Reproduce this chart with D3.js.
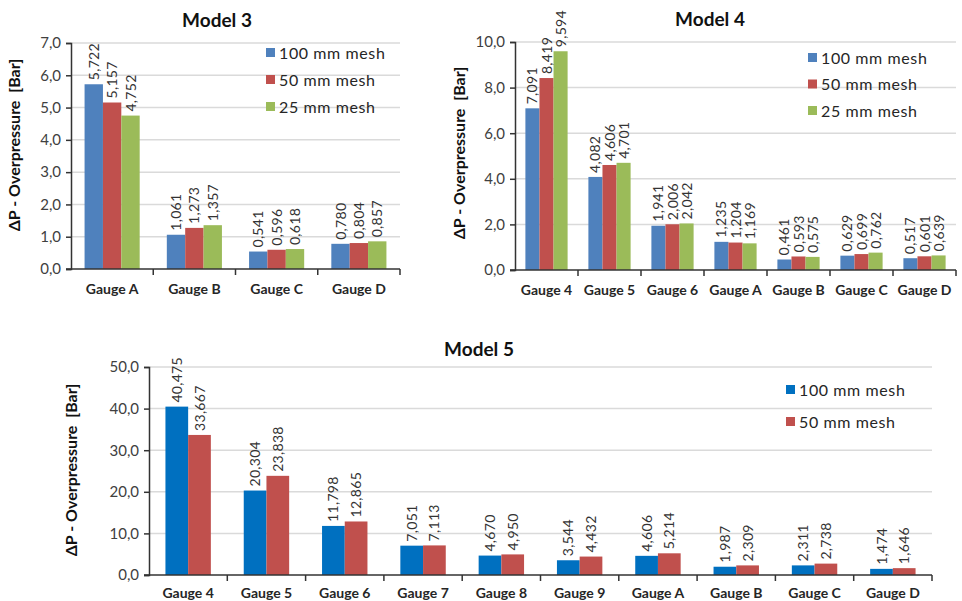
<!DOCTYPE html>
<html>
<head>
<meta charset="utf-8">
<script src="https://cdn.jsdelivr.net/npm/d3@7"></script>
<style>
  html, body { margin: 0; padding: 0; background: #fff; }
  svg { display: block; font-family: Lato, "Open Sans", sans-serif; }
  .ytitle { white-space: pre; }
</style>
</head>
<body>
<svg id="chart" width="962" height="601"></svg>
<script>
// ---- Model 3 ----
const m3Gauges = ["Gauge A", "Gauge B", "Gauge C", "Gauge D"];
const m3Mesh100 = [5.722, 1.061, 0.541, 0.780];
const m3Mesh50  = [5.157, 1.273, 0.596, 0.804];
const m3Mesh25  = [4.752, 1.357, 0.618, 0.857];
const m3Ticks = [0, 1, 2, 3, 4, 5, 6, 7];

// ---- Model 4 ----
const m4Gauges = ["Gauge 4", "Gauge 5", "Gauge 6", "Gauge A", "Gauge B", "Gauge C", "Gauge D"];
const m4Mesh100 = [7.091, 4.082, 1.941, 1.235, 0.461, 0.629, 0.517];
const m4Mesh50  = [8.419, 4.606, 2.006, 1.204, 0.593, 0.699, 0.601];
const m4Mesh25  = [9.594, 4.701, 2.042, 1.169, 0.575, 0.762, 0.639];
const m4Ticks = [0, 2, 4, 6, 8, 10];

// ---- Model 5 ----
const m5Gauges = ["Gauge 4", "Gauge 5", "Gauge 6", "Gauge 7", "Gauge 8", "Gauge 9", "Gauge A", "Gauge B", "Gauge C", "Gauge D"];
const m5Mesh100 = [40.475, 20.304, 11.798, 7.051, 4.670, 3.544, 4.606, 1.987, 2.311, 1.474];
const m5Mesh50  = [33.667, 23.838, 12.865, 7.113, 4.950, 4.432, 5.214, 2.309, 2.738, 1.646];
const m5Ticks = [0, 10, 20, 30, 40, 50];

const seriesNames = ["100 mm mesh", "50 mm mesh", "25 mm mesh"];
const yTitle = "ΔP - Overpressure  [Bar]";

const svg = d3.select("#chart");
const fmt1 = v => d3.format(".1f")(v).replace(".", ",");
const fmt3 = v => d3.format(".3f")(v).replace(".", ",");

function drawChart(opt) {
  const g = svg.append("g");
  const x = d3.scaleBand().domain(opt.categories).range([opt.left, opt.right])
    .paddingInner(opt.pad).paddingOuter(opt.pad / 2);
  const keys = opt.series.map((s, i) => i);
  const xs = d3.scaleBand().domain(keys).range([0, x.bandwidth()]);
  const yMax = opt.ticks[opt.ticks.length - 1];
  const y = d3.scaleLinear().domain([0, yMax]).range([opt.bottom, opt.top]);

  // gridlines
  g.append("g").selectAll("line").data(opt.ticks.filter(t => t > 0)).join("line")
    .attr("x1", opt.left).attr("x2", opt.right)
    .attr("y1", d => y(d)).attr("y2", d => y(d))
    .attr("stroke", "#dadada").attr("stroke-width", 1.5);

  // bars and value labels
  opt.categories.forEach((cat, ci) => {
    opt.series.forEach((vals, si) => {
      const v = vals[ci];
      const bx = x(cat) + xs(si);
      g.append("rect")
        .attr("x", bx).attr("y", y(v))
        .attr("width", xs.bandwidth()).attr("height", y(0) - y(v))
        .attr("fill", opt.colors[si]);
      g.append("text")
        .attr("transform", `translate(${bx + xs.bandwidth() / 2 + opt.labelFont * 0.36},${y(v) - 4}) rotate(-90)`)
        .attr("font-size", opt.labelFont).attr("fill", "#333")
        .attr("letter-spacing", 0.3)
        .text(fmt3(v));
    });
  });

  // y axis
  const yAxis = d3.axisLeft(y).tickValues(opt.ticks).tickFormat(fmt1).tickSize(5).tickPadding(5);
  const ya = g.append("g").attr("transform", `translate(${opt.left},0)`).call(yAxis);
  ya.select(".domain").attr("stroke", "#333").attr("stroke-width", 1.5);
  ya.selectAll(".tick line").attr("stroke", "#333").attr("stroke-width", 1.5);
  ya.selectAll(".tick text").attr("font-size", opt.tickFont).attr("fill", "#404040")
    .attr("font-family", "Lato, sans-serif");

  // x axis
  const xAxis = d3.axisBottom(x).tickSize(0).tickPadding(opt.catPad);
  const xa = g.append("g").attr("transform", `translate(0,${opt.bottom})`).call(xAxis);
  xa.select(".domain").attr("stroke", "#333").attr("stroke-width", 1.5)
    .attr("d", `M${opt.left - 5},0H${opt.right}`);
  xa.selectAll(".tick text").attr("font-size", opt.catFont).attr("font-weight", "bold")
    .attr("fill", "#262626").attr("font-family", "Lato, sans-serif");
  // category separators
  const seps = opt.categories.map(c => x(c) - x.step() * x.paddingInner() / 2).concat([opt.right]);
  xa.append("g").selectAll("line").data(seps.slice(1)).join("line")
    .attr("x1", d => d).attr("x2", d => d).attr("y1", 0).attr("y2", 6)
    .attr("stroke", "#333").attr("stroke-width", 1.5);

  // title
  g.append("text").attr("x", opt.titleX).attr("y", opt.titleY)
    .attr("text-anchor", "middle").attr("font-size", 19).attr("font-weight", "bold")
    .attr("fill", "#111").text(opt.title);

  // y title
  g.append("text").attr("class", "ytitle")
    .attr("transform", `translate(${opt.yTitleX},${opt.yTitleY}) rotate(-90)`)
    .attr("text-anchor", "middle").attr("font-size", opt.yTitleFont).attr("font-weight", "bold")
    .attr("fill", "#111").text(yTitle);

  // legend
  const lg = g.append("g").attr("transform", `translate(${opt.legX},${opt.legY})`);
  opt.series.forEach((s, si) => {
    const row = lg.append("g").attr("transform", `translate(0,${si * opt.legGap})`);
    row.append("rect").attr("x", 0).attr("y", -5).attr("width", 9).attr("height", 9)
      .attr("fill", opt.colors[si]);
    row.append("text").attr("x", 13).attr("y", 0).attr("dy", "0.35em")
      .attr("font-size", opt.legFont).attr("letter-spacing", 0.6)
      .attr("fill", "#262626").text(seriesNames[si]);
  });
}

drawChart({
  title: "Model 3", titleX: 217, titleY: 27,
  categories: m3Gauges, series: [m3Mesh100, m3Mesh50, m3Mesh25],
  colors: ["#4f81bd", "#c0504d", "#9bbb59"], ticks: m3Ticks,
  left: 71, right: 400, top: 43, bottom: 269, pad: 0.33,
  labelFont: 14, tickFont: 15, catFont: 14, catPad: 15,
  yTitleX: 20, yTitleY: 145, yTitleFont: 16,
  legX: 266, legY: 53, legGap: 27, legFont: 16
});

drawChart({
  title: "Model 4", titleX: 710, titleY: 26,
  categories: m4Gauges, series: [m4Mesh100, m4Mesh50, m4Mesh25],
  colors: ["#4f81bd", "#c0504d", "#9bbb59"], ticks: m4Ticks,
  left: 515, right: 956, top: 42, bottom: 270, pad: 0.33,
  labelFont: 14, tickFont: 15, catFont: 14, catPad: 15,
  yTitleX: 465, yTitleY: 153, yTitleFont: 16,
  legX: 808, legY: 58, legGap: 26.5, legFont: 16
});

drawChart({
  title: "Model 5", titleX: 479, titleY: 356,
  categories: m5Gauges, series: [m5Mesh100, m5Mesh50],
  colors: ["#0070c0", "#c0504d"], ticks: m5Ticks,
  left: 149, right: 932, top: 367, bottom: 575, pad: 0.42,
  labelFont: 14, tickFont: 15, catFont: 14, catPad: 13,
  yTitleX: 77, yTitleY: 470, yTitleFont: 16,
  legX: 786, legY: 390, legGap: 32, legFont: 16
});
</script>
</body>
</html>
